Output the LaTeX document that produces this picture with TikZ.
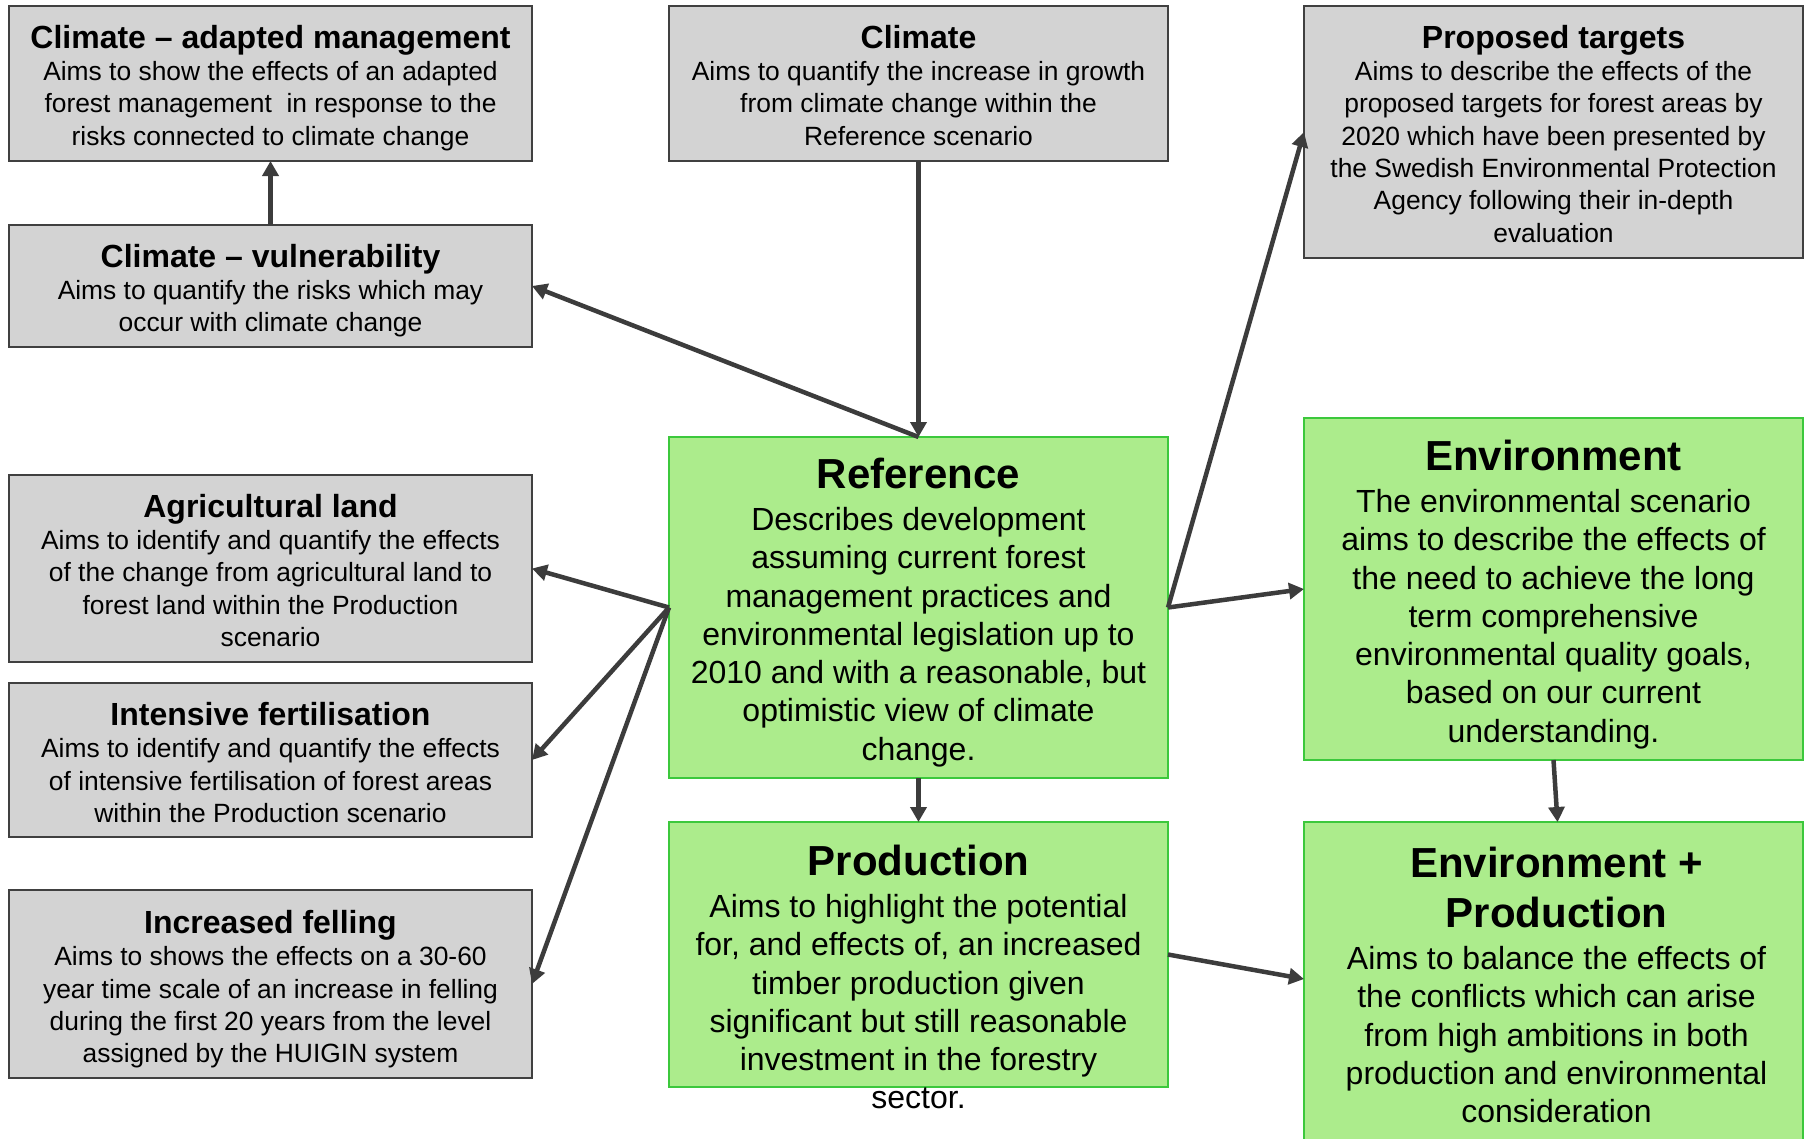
\documentclass[tikz,border=0pt]{standalone}
\usepackage{fontspec}
\setmainfont{Liberation Sans}
\usetikzlibrary{arrows.meta}
\definecolor{grayfill}{RGB}{211,211,211}
\definecolor{grayline}{RGB}{64,64,64}
\definecolor{greenfill}{RGB}{172,236,140}
\definecolor{greenline}{RGB}{60,200,60}
\definecolor{arrowcol}{RGB}{60,60,60}
\newcommand\GrayTitle{\fontsize{32}{36}\selectfont\bfseries}
\newcommand\GreenTitle{\fontsize{42}{48}\selectfont\bfseries}
\begin{document}
\begin{tikzpicture}[x=1pt,y=-1pt,
  graybox/.style={draw=grayline,fill=grayfill,line width=2pt,inner sep=0pt,outer sep=0pt},
  greenbox/.style={draw=greenline,fill=greenfill,line width=2pt,inner sep=0pt,outer sep=0pt},
  graytext/.style={anchor=north,align=center,inner sep=0pt,font=\fontsize{26.4}{32.3}\selectfont},
  greentext/.style={anchor=north,align=center,inner sep=0pt,font=\fontsize{32}{38.3}\selectfont},
  conn/.style={draw=arrowcol,line width=4.5pt,-{Triangle[length=15pt,width=16pt]}}
]
\useasboundingbox (0,0) rectangle (1811,1138);
\fill[white] (0,0) rectangle (1811,1138);

% boxes
\node[graybox,minimum width=523pt,minimum height=155pt] (adapted) at (270.5,83.5) {};
\node[graybox,minimum width=523pt,minimum height=122pt] (vuln) at (270.5,286) {};
\node[graybox,minimum width=499pt,minimum height=155pt] (clim) at (918.5,83.5) {};
\node[graybox,minimum width=499pt,minimum height=252pt] (prop) at (1553.5,132) {};
\node[graybox,minimum width=523pt,minimum height=187pt] (agri) at (270.5,568.5) {};
\node[graybox,minimum width=523pt,minimum height=154pt] (intens) at (270.5,760) {};
\node[graybox,minimum width=523pt,minimum height=188pt] (incr) at (270.5,984) {};
\node[greenbox,minimum width=499pt,minimum height=341pt] (ref) at (918.5,607.5) {};
\node[greenbox,minimum width=499pt,minimum height=342pt] (env) at (1553.5,589) {};
\node[greenbox,minimum width=499pt,minimum height=265pt] (prod) at (918.5,954.5) {};
\node[greenbox,minimum width=499pt,minimum height=326pt] (envprod) at (1553.5,985) {};

% connectors
\draw[conn] (vuln.north) -- (adapted.south);
\draw[conn] (clim.south) -- (ref.north);
\draw[conn] (ref.north) -- (vuln.east);
\draw[conn] (ref.west) -- (agri.east);
\draw[conn] (ref.west) -- (intens.east);
\draw[conn] (ref.west) -- (incr.east);
\draw[conn] (ref.east) -- (prop.west);
\draw[conn] (ref.east) -- (env.west);
\draw[conn] (ref.south) -- (prod.north);
\draw[conn] (prod.east) -- ([yshift=6pt]envprod.west);
\draw[conn] (env.south) -- ([xshift=4pt]envprod.north);

% texts
\node[graytext,yshift=-19pt] (tadapted) at (adapted.north) {{\GrayTitle Climate – adapted management}\\
Aims to show the effects of an adapted\\ forest management\ \ in response to the\\ risks connected to climate change};
\node[graytext,yshift=-19pt] (tvuln) at (vuln.north) {{\GrayTitle Climate – vulnerability}\\
Aims to quantify the risks which may\\ occur with climate change};
\node[graytext,yshift=-19pt] (tclim) at (clim.north) {{\GrayTitle Climate}\\
Aims to quantify the increase in growth\\ from climate change within the\\ Reference scenario};
\node[graytext,yshift=-19pt] (tprop) at (prop.north) {{\GrayTitle Proposed targets}\\
Aims to describe the effects of the\\ proposed targets for forest areas by\\ 2020 which have been presented by\\ the Swedish Environmental Protection\\ Agency following their in-depth\\ evaluation};
\node[graytext,yshift=-19pt] (tagri) at (agri.north) {{\GrayTitle Agricultural land}\\
Aims to identify and quantify the effects\\ of the change from agricultural land to\\ forest land within the Production\\ scenario};
\node[graytext,yshift=-19pt] (tintens) at (intens.north) {{\GrayTitle Intensive fertilisation}\\
Aims to identify and quantify the effects\\ of intensive fertilisation of forest areas\\ within the Production scenario};
\node[graytext,yshift=-20pt] (tincr) at (incr.north) {{\GrayTitle Increased felling}\\
Aims to shows the effects on a 30-60\\ year time scale of an increase in felling\\ during the first 20 years from the level\\ assigned by the HUIGIN system};
\node[greentext,yshift=-20.5pt] (tref) at (ref.north) {{\GreenTitle Reference}\\[4pt]
Describes development\\ assuming current forest\\ management practices and\\ environmental legislation up to\\ 2010 and with a reasonable, but\\ optimistic view of climate\\ change.};
\node[greentext,yshift=-21.5pt] (tenv) at (env.north) {{\GreenTitle Environment}\\[4pt]
The environmental scenario\\ aims to describe the effects of\\ the need to achieve the long\\ term comprehensive\\ environmental quality goals,\\ based on our current\\ understanding.};
\node[greentext,yshift=-22.5pt] (tprod) at (prod.north) {{\GreenTitle Production}\\[4pt]
Aims to highlight the potential\\ for, and effects of, an increased\\ timber production given\\ significant but still reasonable\\ investment in the forestry\\ sector.};
\node[greentext,yshift=-24.5pt,xshift=3pt] (tenvprod) at (envprod.north) {{\GreenTitle Environment +}\\[11.7pt]{\GreenTitle Production}\\[4pt]
Aims to balance the effects of\\ the conflicts which can arise\\ from high ambitions in both\\ production and environmental\\ consideration};
\end{tikzpicture}
\end{document}
